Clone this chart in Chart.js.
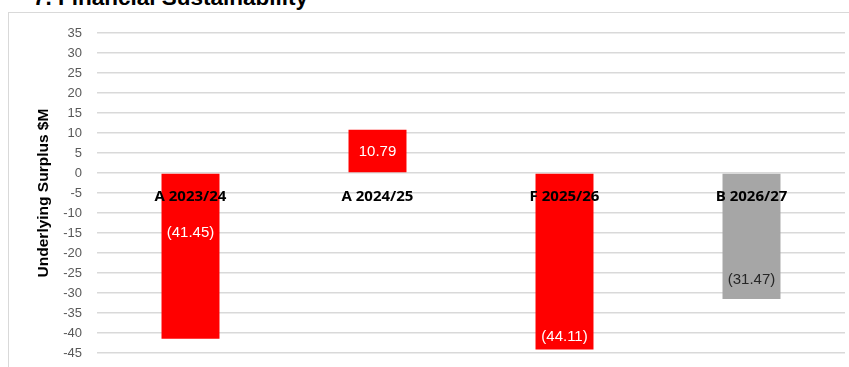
<!DOCTYPE html>
<html>
<head>
<meta charset="utf-8">
<title>Financial Sustainability</title>
<script src="https://cdn.jsdelivr.net/npm/chart.js@4/dist/chart.umd.min.js"></script>
<style>
  html, body { margin: 0; padding: 0; background: #fff; overflow: hidden; }
  #marco { position: absolute; left: 8px; top: 12px; width: 900px; height: 400px; border: 1px solid #d9d9d9; }
  #titulo { position: absolute; left: 33px; top: -13.5px; font: bold 22.5px "Liberation Sans", Arial, sans-serif; line-height: 22px; color: #000; white-space: nowrap; }
  #grafico { position: absolute; left: 0; top: 0; }
</style>
</head>
<body>
<div id="marco"></div>
<div id="titulo">7. Financial Sustainability</div>
<canvas id="grafico" width="849" height="367"></canvas>
<script>
// Datos del gráfico
const categorias = ['A 2023/24', 'A 2024/25', 'F 2025/26', 'B 2026/27'];
const superavit = [-41.45, 10.79, -44.11, -31.47];
const ticksY = { min: -45, max: 35, paso: 5 };

const coloresBarra = ['#ff0000', '#ff0000', '#ff0000', '#a6a6a6'];
const coloresEtiqueta = ['#ffffff', '#ffffff', '#ffffff', '#262626'];
// altura (en valor del eje) donde va cada etiqueta dentro de la barra
const alturaEtiqueta = [-15, 5.4, -41, -26.8];

function formatoValor(v) {
  const txt = Math.abs(v).toFixed(2);
  return v < 0 ? '(' + txt + ')' : txt;
}

// Plugin sencillo para pintar las etiquetas de valor
const etiquetasBarras = {
  id: 'etiquetasBarras',
  afterDraw(chart) {
    const ctx = chart.ctx;
    const meta = chart.getDatasetMeta(0);
    const escalaY = chart.scales.y;
    ctx.save();
    ctx.font = '15px "Liberation Sans", Arial, sans-serif';
    ctx.textAlign = 'center';
    ctx.textBaseline = 'middle';
    meta.data.forEach((barra, i) => {
      ctx.fillStyle = coloresEtiqueta[i];
      ctx.fillText(formatoValor(superavit[i]), barra.x, escalaY.getPixelForValue(alturaEtiqueta[i]));
    });
    ctx.restore();
  }
};

const ctx = document.getElementById('grafico').getContext('2d');
const grafico = new Chart(ctx, {
  type: 'bar',
  data: {
    labels: categorias,
    datasets: [{
      label: 'Underlying Surplus $M',
      data: superavit,
      backgroundColor: coloresBarra,
      borderWidth: 0,
      barPercentage: 0.31,
      categoryPercentage: 1
    }]
  },
  options: {
    responsive: false,
    animation: false,
    devicePixelRatio: 1,
    layout: { padding: { left: 0, right: 4, top: 33, bottom: 14 } },
    plugins: {
      legend: { display: false },
      tooltip: { enabled: false },
      title: { display: false }
    },
    scales: {
      x: {
        position: { y: 0 },
        grid: { display: false },
        border: { display: false },
        ticks: {
          z: 1,
          padding: 7,
          color: '#000',
          maxRotation: 0,
          autoSkip: false,
          font: { family: '"Open Sans", sans-serif', size: 15, weight: 'bold' }
        },
        afterFit(escala) {
          escala.height = 0;
          escala.paddingTop = 0;
          escala.paddingBottom = 0;
        }
      },
      y: {
        min: ticksY.min,
        max: ticksY.max,
        ticks: {
          stepSize: ticksY.paso,
          padding: 15,
          color: '#595959',
          font: { family: '"Liberation Sans", Arial, sans-serif', size: 13 }
        },
        grid: { color: '#d9d9d9', lineWidth: 1.5, drawTicks: false },
        border: { display: false },
        title: {
          display: true,
          text: 'Underlying Surplus $M',
          color: '#000',
          padding: { top: 34, bottom: 0 },
          font: { family: '"Liberation Sans", Arial, sans-serif', size: 15.5, weight: 'bold' }
        },
        afterFit(escala) {
          escala.width = 97;
          escala.paddingTop = 0;
          escala.paddingBottom = 0;
        }
      }
    }
  },
  plugins: [etiquetasBarras]
});
</script>
</body>
</html>
